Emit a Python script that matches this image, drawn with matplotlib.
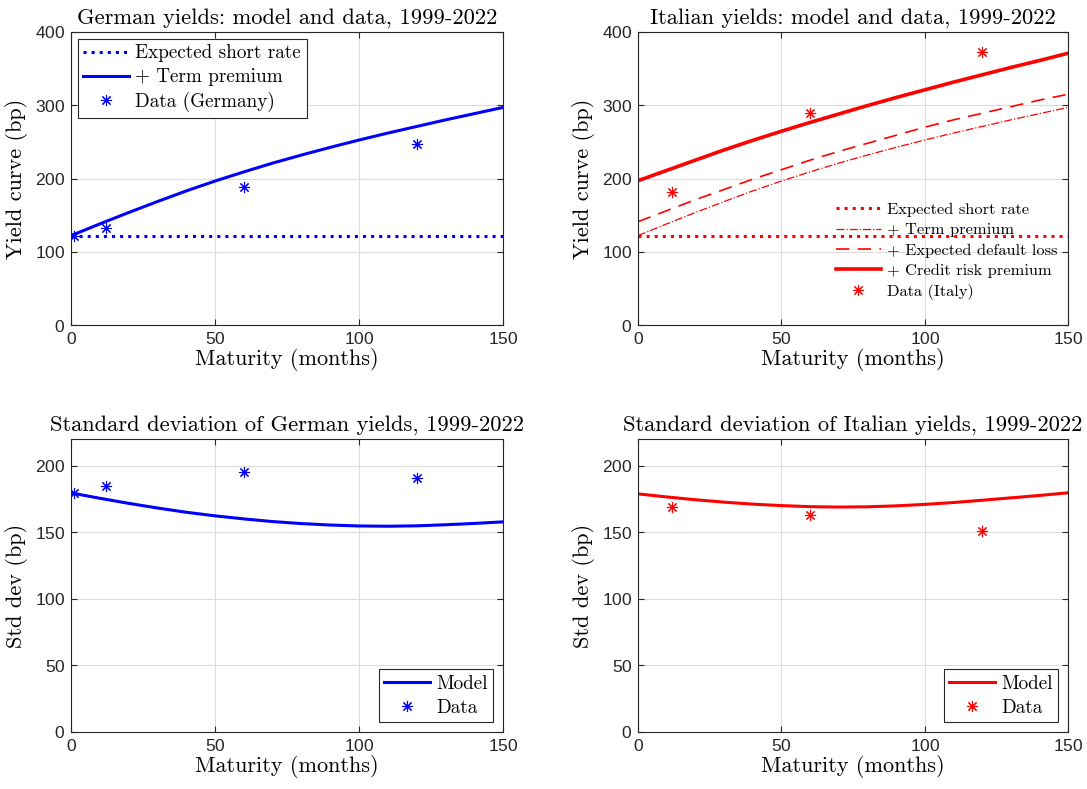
import matplotlib
matplotlib.use("Agg")
import matplotlib.pyplot as plt
import numpy as np

# maturities (months) on which the model curves are evaluated
mat = [0, 10, 20, 30, 40, 50, 60, 70, 80, 90, 100, 110, 120, 130, 140, 150]

# yield curves (bp)
short_rate = [122] * len(mat)
term_prem = [122, 138, 153.5, 168.5, 183, 196.5, 209, 221, 232, 242.5, 252.5, 262, 271, 280, 288.5, 297]
def_loss_it = [141, 156, 171, 185, 199, 212, 225, 237, 248, 259, 270, 280, 289, 298, 307, 315]
credit_prem_it = [197, 211, 225, 239, 252, 264.5, 276.5, 288, 299.5, 310.5, 321, 331.5, 341.5, 351.5, 361, 371]

# observed average yields
data_mat_de = [1, 12, 60, 120]
data_yld_de = [122, 132, 189, 247]
data_mat_it = [12, 60, 120]
data_yld_it = [181, 290, 373]

# standard deviation of yields (bp)
sd_de = [179.5, 175.5, 171.7, 168.2, 165, 162.3, 160, 158, 156.5, 155.4, 154.7, 154.5, 154.8, 155.6, 156.6, 157.8]
sd_it = [178.8, 176.5, 174.4, 172.6, 171.1, 170, 169.2, 168.9, 169.1, 169.8, 170.9, 172.3, 174, 175.8, 177.6, 179.6]
data_sd_de = [179.5, 185, 195, 191]
data_sd_it = [169.3, 163, 150.8]

serif = "cmr10"
tick_font = "Liberation Sans"
plt.rcParams["axes.formatter.use_mathtext"] = True

ast = (8, 2, 0)  # eight-armed asterisk marker

fig = plt.figure(figsize=(10.87, 7.89), dpi=100)
W, H = 1087, 789


def make_ax(l, r, t, b, ymax, yticks):
    ax = fig.add_axes([l / W, 1 - b / H, (r - l) / W, (b - t) / H])
    ax.set_xlim(0, 150)
    ax.set_ylim(0, ymax)
    ax.set_xticks([0, 50, 100, 150])
    ax.set_yticks(yticks)
    ax.grid(True, color="#dcdcdc", linewidth=0.8)
    ax.set_axisbelow(True)
    for s in ax.spines.values():
        s.set_color("#262626")
        s.set_linewidth(0.8)
    ax.tick_params(direction="in", top=True, right=True, length=4,
                   width=0.8, color="#262626", labelcolor="#262626",
                   labelsize=12.5, pad=4)
    for lab in ax.get_xticklabels() + ax.get_yticklabels():
        lab.set_family(tick_font)
    ax.set_xlabel("Maturity (months)", family=serif, fontsize=16, labelpad=1)
    return ax


def title(ax, text):
    ax.set_title(text, family=serif, fontsize=16.2, pad=6)


def boxed_legend(ax, loc, pad):
    leg = ax.legend(loc=loc, prop={"family": serif, "size": 13.8}, fancybox=False,
                    edgecolor="#262626", framealpha=1, handlelength=2.4, handletextpad=0.3,
                    borderaxespad=pad, borderpad=0.3, labelspacing=0.3)
    leg.get_frame().set_linewidth(0.8)


def data_marks(ax, x, y, color, label):
    ax.plot(x, y, linestyle="none", marker=ast, markersize=8, markeredgewidth=0.8,
            color=color, label=label)


# German yields
ax1 = make_ax(71, 503, 32, 325, 400, [0, 100, 200, 300, 400])
ax1.plot(mat, short_rate, color="blue", linestyle=":", linewidth=2.2, label="Expected short rate")
ax1.plot(mat, term_prem, color="blue", linewidth=2.2, label="+ Term premium")
data_marks(ax1, data_mat_de, data_yld_de, "blue", "Data (Germany)")
title(ax1, "German yields: model and data, 1999-2022")
ax1.set_ylabel("Yield curve (bp)", family=serif, fontsize=16, labelpad=5)
boxed_legend(ax1, "upper left", 0.35)

# Italian yields
ax2 = make_ax(638, 1068, 32, 325, 400, [0, 100, 200, 300, 400])
ax2.plot(mat, short_rate, color="red", linestyle=":", linewidth=2.2, label="Expected short rate")
ax2.plot(mat, term_prem, color="red", linestyle="-.", linewidth=0.9, label="+ Term premium")
ax2.plot(mat, def_loss_it, color="red", linestyle=(0, (8, 5)), linewidth=1.2,
         label="+ Expected default loss")
ax2.plot(mat, credit_prem_it, color="red", linewidth=2.6, label="+ Credit risk premium")
data_marks(ax2, data_mat_it, data_yld_it, "red", "Data (Italy)")
title(ax2, "Italian yields: model and data, 1999-2022")
ax2.set_ylabel("Yield curve (bp)", family=serif, fontsize=16, labelpad=5)
ax2.legend(loc="lower right", bbox_to_anchor=(1.01, 0.035), prop={"family": serif, "size": 11.8},
           frameon=False, handlelength=2.75, handletextpad=0.4, labelspacing=0.36)

# German standard deviations
ax3 = make_ax(71, 503, 439, 732, 220, [0, 50, 100, 150, 200])
ax3.plot(mat, sd_de, color="blue", linewidth=2.2, label="Model")
data_marks(ax3, data_mat_de, data_sd_de, "blue", "Data")
title(ax3, "Standard deviation of German yields, 1999-2022")
ax3.set_ylabel("Std dev (bp)", family=serif, fontsize=16, labelpad=5)
boxed_legend(ax3, "lower right", 0.5)

# Italian standard deviations
ax4 = make_ax(638, 1068, 439, 732, 220, [0, 50, 100, 150, 200])
ax4.plot(mat, sd_it, color="red", linewidth=2.2, label="Model")
data_marks(ax4, data_mat_it, data_sd_it, "red", "Data")
title(ax4, "Standard deviation of Italian yields, 1999-2022")
ax4.set_ylabel("Std dev (bp)", family=serif, fontsize=16, labelpad=5)
boxed_legend(ax4, "lower right", 0.5)

fig.savefig("out.png", dpi=100)
